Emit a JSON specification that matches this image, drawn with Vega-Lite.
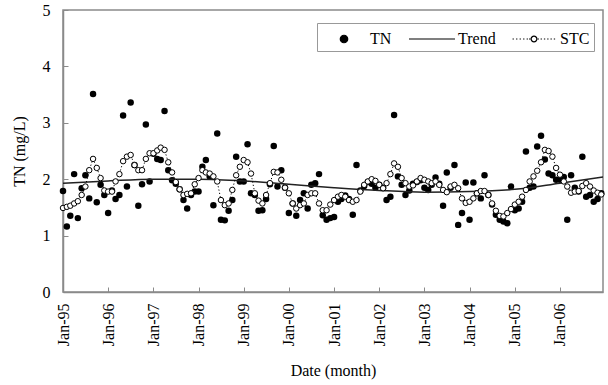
{
  "$schema": "https://vega.github.io/schema/vega-lite/v6.json",
  "width": 540,
  "height": 282,
  "autosize": {"type": "none"},
  "padding": {"left": 63, "top": 10, "right": 5, "bottom": 93},
  "background": "white",
  "config": {
    "font": "Liberation Serif",
    "view": {"stroke": "#8a8a8a", "strokeWidth": 1.5},
    "axis": {"grid": false, "domainColor": "#8a8a8a", "domainWidth": 1.5, "tickColor": "#8a8a8a", "tickSize": -5, "labelFont": "Liberation Serif", "labelFontSize": 16, "labelColor": "black", "titleFont": "Liberation Serif", "titleFontSize": 16, "titleFontWeight": "normal", "titleColor": "black"}
  },
  "datasets": {
    "monthly": [
      {"d":"1995-01-01","tn":1.79,"stc":1.49},{"d":"1995-02-01","tn":1.16,"stc":1.51},{"d":"1995-03-01","tn":1.35,"stc":1.53},{"d":"1995-04-01","tn":2.09,"stc":1.57},{"d":"1995-05-01","tn":1.31,"stc":1.61},{"d":"1995-06-01","tn":1.84,"stc":1.72},{"d":"1995-07-01","tn":2.07,"stc":1.87},{"d":"1995-08-01","tn":1.66,"stc":2.16},{"d":"1995-09-01","tn":3.51,"stc":2.36},{"d":"1995-10-01","tn":1.59,"stc":2.20},{"d":"1995-11-01","tn":1.90,"stc":2.02},{"d":"1995-12-01","tn":1.72,"stc":1.80},
      {"d":"1996-01-01","tn":1.40,"stc":1.78},{"d":"1996-02-01","tn":1.80,"stc":1.78},{"d":"1996-03-01","tn":1.65,"stc":1.96},{"d":"1996-04-01","tn":1.72,"stc":2.09},{"d":"1996-05-01","tn":3.13,"stc":2.32},{"d":"1996-06-01","tn":1.87,"stc":2.40},{"d":"1996-07-01","tn":3.36,"stc":2.43},{"d":"1996-08-01","tn":2.25,"stc":2.25},{"d":"1996-09-01","tn":1.53,"stc":2.16},{"d":"1996-10-01","tn":1.91,"stc":2.16},{"d":"1996-11-01","tn":2.97,"stc":2.36},{"d":"1996-12-01","tn":1.96,"stc":2.46},
      {"d":"1997-01-01","tn":2.45,"stc":2.46},{"d":"1997-02-01","tn":2.36,"stc":2.51},{"d":"1997-03-01","tn":2.34,"stc":2.56},{"d":"1997-04-01","tn":3.21,"stc":2.52},{"d":"1997-05-01","tn":2.16,"stc":2.30},{"d":"1997-06-01","tn":1.98,"stc":2.12},{"d":"1997-07-01","tn":1.92,"stc":1.95},{"d":"1997-08-01","tn":1.82,"stc":1.82},{"d":"1997-09-01","tn":1.63,"stc":1.72},{"d":"1997-10-01","tn":1.48,"stc":1.74},{"d":"1997-11-01","tn":1.72,"stc":1.75},{"d":"1997-12-01","tn":1.78,"stc":1.91},
      {"d":"1998-01-01","tn":1.78,"stc":2.02},{"d":"1998-02-01","tn":2.22,"stc":2.16},{"d":"1998-03-01","tn":2.34,"stc":2.12},{"d":"1998-04-01","tn":2.05,"stc":2.10},{"d":"1998-05-01","tn":1.54,"stc":2.05},{"d":"1998-06-01","tn":2.81,"stc":1.96},{"d":"1998-07-01","tn":1.28,"stc":1.63},{"d":"1998-08-01","tn":1.27,"stc":1.54},{"d":"1998-09-01","tn":1.44,"stc":1.57},{"d":"1998-10-01","tn":1.63,"stc":1.81},{"d":"1998-11-01","tn":2.40,"stc":2.07},{"d":"1998-12-01","tn":1.96,"stc":2.22},
      {"d":"1999-01-01","tn":1.96,"stc":2.34},{"d":"1999-02-01","tn":2.62,"stc":2.30},{"d":"1999-03-01","tn":1.75,"stc":2.10},{"d":"1999-04-01","tn":1.72,"stc":1.75},{"d":"1999-05-01","tn":1.44,"stc":1.62},{"d":"1999-06-01","tn":1.45,"stc":1.57},{"d":"1999-07-01","tn":1.65,"stc":1.72},{"d":"1999-08-01","tn":1.91,"stc":1.93},{"d":"1999-09-01","tn":2.59,"stc":2.13},{"d":"1999-10-01","tn":1.87,"stc":2.12},{"d":"1999-11-01","tn":2.16,"stc":1.99},{"d":"1999-12-01","tn":1.85,"stc":1.85},
      {"d":"2000-01-01","tn":1.40,"stc":1.75},{"d":"2000-02-01","tn":1.57,"stc":1.57},{"d":"2000-03-01","tn":1.35,"stc":1.48},{"d":"2000-04-01","tn":1.63,"stc":1.54},{"d":"2000-05-01","tn":1.75,"stc":1.57},{"d":"2000-06-01","tn":1.48,"stc":1.72},{"d":"2000-07-01","tn":1.90,"stc":1.75},{"d":"2000-08-01","tn":1.93,"stc":1.75},{"d":"2000-09-01","tn":2.09,"stc":1.57},{"d":"2000-10-01","tn":1.36,"stc":1.45},{"d":"2000-11-01","tn":1.28,"stc":1.45},{"d":"2000-12-01","tn":1.31,"stc":1.55},
      {"d":"2001-01-01","tn":1.33,"stc":1.63},{"d":"2001-02-01","tn":1.60,"stc":1.69},{"d":"2001-03-01","tn":1.65,"stc":1.72},{"d":"2001-04-01","tn":1.71,"stc":1.69},{"d":"2001-05-01","tn":1.65,"stc":1.63},{"d":"2001-06-01","tn":1.37,"stc":1.60},{"d":"2001-07-01","tn":2.25,"stc":1.63},{"d":"2001-08-01","tn":1.80,"stc":1.78},{"d":"2001-09-01","tn":1.88,"stc":1.90},{"d":"2001-10-01","tn":1.95,"stc":1.96},{"d":"2001-11-01","tn":1.92,"stc":2.00},{"d":"2001-12-01","tn":1.85,"stc":1.97},
      {"d":"2002-01-01","tn":1.90,"stc":1.90},{"d":"2002-02-01","tn":1.85,"stc":1.84},{"d":"2002-03-01","tn":1.63,"stc":1.93},{"d":"2002-04-01","tn":1.69,"stc":2.09},{"d":"2002-05-01","tn":3.14,"stc":2.28},{"d":"2002-06-01","tn":2.05,"stc":2.22},{"d":"2002-07-01","tn":1.90,"stc":2.02},{"d":"2002-08-01","tn":1.72,"stc":1.93},{"d":"2002-09-01","tn":1.80,"stc":1.87},{"d":"2002-10-01","tn":1.92,"stc":1.89},{"d":"2002-11-01","tn":1.95,"stc":1.96},{"d":"2002-12-01","tn":1.98,"stc":2.02},
      {"d":"2003-01-01","tn":1.85,"stc":1.99},{"d":"2003-02-01","tn":1.81,"stc":1.96},{"d":"2003-03-01","tn":1.90,"stc":1.93},{"d":"2003-04-01","tn":2.03,"stc":1.96},{"d":"2003-05-01","tn":1.92,"stc":1.90},{"d":"2003-06-01","tn":1.53,"stc":1.81},{"d":"2003-07-01","tn":2.12,"stc":1.77},{"d":"2003-08-01","tn":1.85,"stc":1.87},{"d":"2003-09-01","tn":2.25,"stc":1.90},{"d":"2003-10-01","tn":1.19,"stc":1.84},{"d":"2003-11-01","tn":1.40,"stc":1.66},{"d":"2003-12-01","tn":1.94,"stc":1.58},
      {"d":"2004-01-01","tn":1.28,"stc":1.60},{"d":"2004-02-01","tn":1.94,"stc":1.66},{"d":"2004-03-01","tn":1.75,"stc":1.75},{"d":"2004-04-01","tn":1.66,"stc":1.79},{"d":"2004-05-01","tn":2.07,"stc":1.79},{"d":"2004-06-01","tn":1.72,"stc":1.72},{"d":"2004-07-01","tn":1.55,"stc":1.57},{"d":"2004-08-01","tn":1.37,"stc":1.44},{"d":"2004-09-01","tn":1.28,"stc":1.35},{"d":"2004-10-01","tn":1.25,"stc":1.34},{"d":"2004-11-01","tn":1.22,"stc":1.40},{"d":"2004-12-01","tn":1.87,"stc":1.47},
      {"d":"2005-01-01","tn":1.45,"stc":1.55},{"d":"2005-02-01","tn":1.48,"stc":1.60},{"d":"2005-03-01","tn":1.60,"stc":1.69},{"d":"2005-04-01","tn":2.49,"stc":1.81},{"d":"2005-05-01","tn":1.85,"stc":1.96},{"d":"2005-06-01","tn":1.87,"stc":2.05},{"d":"2005-07-01","tn":2.58,"stc":2.15},{"d":"2005-08-01","tn":2.77,"stc":2.30},{"d":"2005-09-01","tn":2.35,"stc":2.52},{"d":"2005-10-01","tn":2.10,"stc":2.50},{"d":"2005-11-01","tn":2.07,"stc":2.40},{"d":"2005-12-01","tn":1.99,"stc":2.20},
      {"d":"2006-01-01","tn":1.99,"stc":2.08},{"d":"2006-02-01","tn":2.04,"stc":1.96},{"d":"2006-03-01","tn":1.28,"stc":1.87},{"d":"2006-04-01","tn":2.07,"stc":1.76},{"d":"2006-05-01","tn":1.85,"stc":1.78},{"d":"2006-06-01","tn":1.78,"stc":1.79},{"d":"2006-07-01","tn":2.40,"stc":1.88},{"d":"2006-08-01","tn":1.69,"stc":1.93},{"d":"2006-09-01","tn":1.72,"stc":1.87},{"d":"2006-10-01","tn":1.60,"stc":1.80},{"d":"2006-11-01","tn":1.65,"stc":1.76},{"d":"2006-12-01","tn":1.75,"stc":1.73}
    ],
    "trend": [
      {"d":"1995-01-01","v":1.93},{"d":"1996-01-01","v":1.97},{"d":"1997-01-01","v":2.00},{"d":"1998-01-01","v":2.00},{"d":"1999-01-01","v":1.97},{"d":"2000-01-01","v":1.91},{"d":"2001-01-01","v":1.85},{"d":"2002-01-01","v":1.80},{"d":"2003-01-01","v":1.77},{"d":"2004-01-01","v":1.78},{"d":"2005-01-01","v":1.82},{"d":"2006-01-01","v":1.93},{"d":"2006-12-15","v":2.04}
    ],
    "legend": [{"series":"TN"},{"series":"Trend"},{"series":"STC"}]
  },
  "layer": [
    {
      "data": {"name": "monthly"},
      "mark": {"type": "point", "shape": "circle", "filled": true, "color": "black", "size": 42, "opacity": 1},
      "encoding": {
        "x": {"field": "d", "type": "temporal", "title": "Date (month)",
          "scale": {"type": "utc", "domain": [{"year":1995,"month":1,"date":1,"utc":true},{"year":2006,"month":12,"date":15,"utc":true}]},
          "axis": {"format": "%b-%y", "labelAngle": 270, "labelPadding": 16, "titlePadding": 17,
            "values": [{"year":1995,"month":1,"date":1,"utc":true},{"year":1996,"month":1,"date":1,"utc":true},{"year":1997,"month":1,"date":1,"utc":true},{"year":1998,"month":1,"date":1,"utc":true},{"year":1999,"month":1,"date":1,"utc":true},{"year":2000,"month":1,"date":1,"utc":true},{"year":2001,"month":1,"date":1,"utc":true},{"year":2002,"month":1,"date":1,"utc":true},{"year":2003,"month":1,"date":1,"utc":true},{"year":2004,"month":1,"date":1,"utc":true},{"year":2005,"month":1,"date":1,"utc":true},{"year":2006,"month":1,"date":1,"utc":true}]}},
        "y": {"field": "tn", "type": "quantitative", "title": "TN (mg/L)",
          "scale": {"domain": [0, 5], "nice": false, "zero": false},
          "axis": {"values": [0,1,2,3,4,5], "format": "d", "labelPadding": 18, "titlePadding": 15}}
      }
    },
    {
      "data": {"name": "trend"},
      "mark": {"type": "line", "color": "#222", "strokeWidth": 1.5, "interpolate": "monotone"},
      "encoding": {
        "x": {"field": "d", "type": "temporal"},
        "y": {"field": "v", "type": "quantitative"}
      }
    },
    {
      "data": {"name": "monthly"},
      "mark": {"type": "line", "color": "black", "strokeWidth": 1, "strokeDash": [1.2, 2.2]},
      "encoding": {
        "x": {"field": "d", "type": "temporal"},
        "y": {"field": "stc", "type": "quantitative"}
      }
    },
    {
      "data": {"name": "monthly"},
      "mark": {"type": "point", "shape": "circle", "filled": true, "fill": "white", "stroke": "black", "strokeWidth": 1, "size": 30, "opacity": 1},
      "encoding": {
        "x": {"field": "d", "type": "temporal"},
        "y": {"field": "stc", "type": "quantitative"}
      }
    },
    {
      "data": {"name": "legend"},
      "mark": {"type": "point", "filled": true, "opacity": 0},
      "encoding": {
        "shape": {"field": "series", "type": "nominal",
          "scale": {"domain": ["TN","Trend","STC"], "range": [
            "M0.34,0A0.34,0.34,0,1,1,-0.34,0A0.34,0.34,0,1,1,0.34,0Z",
            "M-2.09,0L2.09,0",
            "M-1.95,0h0.12M-1.63,0h0.12M-1.31,0h0.12M-0.99,0h0.12M-0.67,0h0.12M-0.45,0h0.12M0.33,0h0.12M0.6,0h0.12M0.9,0h0.12M1.2,0h0.12M1.5,0h0.12M1.8,0h0.12M0.26,0A0.26,0.26,0,1,1,-0.26,0A0.26,0.26,0,1,1,0.26,0Z"
          ]},
          "legend": {"title": null, "orient": "none", "legendX": 254, "legendY": 13, "direction": "horizontal", "columns": 3, "symbolSize": 484, "symbolOffset": 11, "symbolOpacity": 1, "symbolStrokeColor": "black", "symbolStrokeWidth": 1.2, "labelFont": "Liberation Serif", "labelFontSize": 16, "labelColor": "black", "labelOffset": 14, "columnPadding": 14, "padding": 4, "strokeColor": "#999", "fillColor": "white",
            "encode": {"symbols": {"update": {"stroke": {"value": "black"}, "strokeWidth": {"value": 1.2}}}}}},
        "fill": {"field": "series", "type": "nominal",
          "scale": {"domain": ["TN","Trend","STC"], "range": ["black","white","white"]},
          "legend": {"title": null, "orient": "none", "legendX": 254, "legendY": 13, "direction": "horizontal", "columns": 3, "symbolSize": 484, "symbolOffset": 11, "symbolOpacity": 1, "symbolStrokeColor": "black", "symbolStrokeWidth": 1.2, "labelFont": "Liberation Serif", "labelFontSize": 16, "labelColor": "black", "labelOffset": 14, "columnPadding": 14, "padding": 4, "strokeColor": "#999", "fillColor": "white",
            "encode": {"symbols": {"update": {"stroke": {"value": "black"}, "strokeWidth": {"value": 1.2}}}}}}
      }
    }
  ]
}
